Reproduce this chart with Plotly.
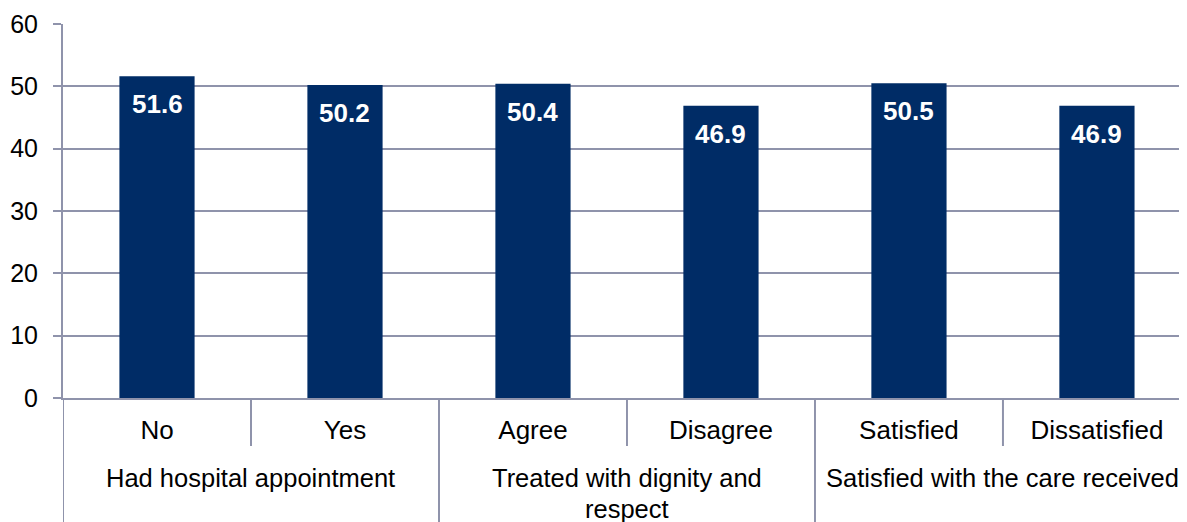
import plotly.graph_objects as go

categories = ["No", "Yes", "Agree", "Disagree", "Satisfied", "Dissatisfied"]
values = [51.6, 50.2, 50.4, 46.9, 50.5, 46.9]
groups = [["Had hospital appointment"], ["Treated with dignity and", "respect"], ["Satisfied with the care received"]]
group_sizes = [2, 2, 2]
y_ticks = [0, 10, 20, 30, 40, 50, 60]

BAR = "#002C66"
GRID = "#8F93AB"
FONT = "Liberation Sans, Arial, sans-serif"

# page body has an 8px margin; compensate so the plot sits where the reference has it
OFF = 8
W, H = 1187 - OFF, 522 - OFF
ML, MR, MT, MB = 63 - OFF, 0, 24 - OFF, 124
plot_h = H - MT - MB

fig = go.Figure()
fig.add_trace(go.Bar(
    x=list(range(len(categories))), y=values,
    marker=dict(color=BAR, line=dict(width=0)),
    width=0.4, hoverinfo="skip",
))

# data labels
for i, v in enumerate(values):
    fig.add_annotation(x=i, y=v, text=f"{v:.1f}", showarrow=False, yanchor="middle",
                       yshift=-28, font=dict(family=FONT, size=26, color="white", weight="bold"))

# group labels and dividers
start = 0
for lines, n in zip(groups, group_sizes):
    center = start + (n - 1) / 2
    for k, line in enumerate(lines):
        fig.add_annotation(x=center, xref="x", y=-80 / plot_h, yref="paper",
                           text=line, showarrow=False, yanchor="middle", xanchor="center",
                           yshift=-31 * k,
                           font=dict(family=FONT, size=25.5, color="black"))
    fig.add_shape(type="line", xref="x", yref="paper", x0=start - 0.5, x1=start - 0.5,
                  y0=0, y1=-MB / plot_h, line=dict(color=GRID, width=2))
    for k in range(1, n):
        xpos = start + k - 0.5
        fig.add_shape(type="line", xref="x", yref="paper", x0=xpos, x1=xpos,
                      y0=0, y1=-48 / plot_h, line=dict(color=GRID, width=2))
    start += n

fig.update_layout(
    width=W, height=H,
    margin=dict(l=ML, r=MR, t=MT, b=MB, pad=0),
    paper_bgcolor="white", plot_bgcolor="white",
    showlegend=False,
    font=dict(family=FONT, color="black"),
    xaxis=dict(
        range=[-0.5, 5.479],
        tickmode="array", tickvals=list(range(len(categories))), ticktext=categories,
        tickfont=dict(size=26, color="black"),
        showline=True, linecolor=GRID, linewidth=2,
        showgrid=False, zeroline=False, ticks="", ticklabelstandoff=8,
    ),
    yaxis=dict(
        range=[0, 60], tickmode="array", tickvals=y_ticks,
        tickfont=dict(size=25, color="black"),
        showgrid=True, gridcolor=GRID, gridwidth=2,
        showline=True, linecolor=GRID, linewidth=2,
        ticks="outside", ticklen=8, tickcolor=GRID, tickwidth=2,
        zeroline=False, ticklabelstandoff=10,
    ),
)

fig.write_html("out.html")
